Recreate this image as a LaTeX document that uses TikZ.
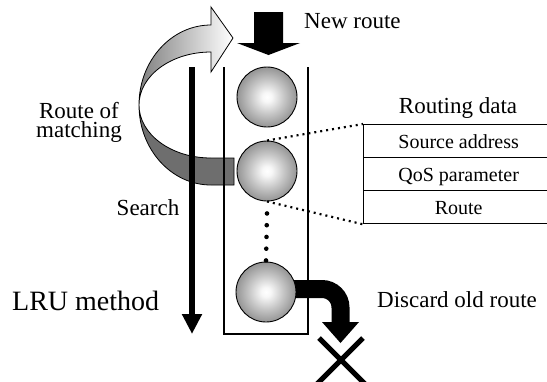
\documentclass[tikz,border=0pt]{standalone}
\usepackage{fontspec}
\setmainfont{Liberation Serif}
\usetikzlibrary{calc,arrows.meta}
\pgfdeclareradialshading{ballshade}{\pgfpoint{0bp}{0bp}}{color(0bp)=(white); color(4bp)=(white!97!black); color(14bp)=(black!22); color(24bp)=(black!40); color(30bp)=(black!50); color(50bp)=(black!55)}
\begin{document}
\begin{tikzpicture}[x=1pt,y=-1pt,
  ball/.style={circle, draw=black, line width=0.9pt, minimum size=60pt, inner sep=0pt, shade, shading=ballshade},
  lbl/.style={font=\fontsize{23}{19}\selectfont, inner sep=0pt, align=center},
  cell/.style={draw=black, line width=1.3pt, font=\fontsize{20}{22}\selectfont, inner sep=0pt,
    minimum width=190pt, minimum height=33pt, text height=15pt, text depth=1pt, anchor=north west},
  thinline/.style={line width=1.4pt},
  finedots/.style={line width=2.2pt, dash pattern=on 2pt off 4pt},
  fatline/.style={line width=18pt}
]
\useasboundingbox (0,0) rectangle (547,381);
\fill[white] (0,0) rectangle (547,381);

% ---- route of matching ribbon ----
\filldraw[fill=black!57, draw=black, line width=0.8pt]
  (139,105) arc[start angle=180, end angle=90, x radius=72, y radius=80]
  -- (234,185) -- (234,158) -- (211,158)
  arc[start angle=90, end angle=180, x radius=72, y radius=53] -- cycle;
\path[draw=black, line width=0.8pt, left color=black!50, right color=white]
  (139,105) arc[start angle=180, end angle=270, x radius=72, y radius=80]
  -- (211,7) -- (233,38) -- (211,72) -- (211,52)
  arc[start angle=270, end angle=180, x radius=72, y radius=53] -- cycle;

% ---- container ----
\coordinate (ctl) at (224,67);
\coordinate (cbl) at (224,334);
\coordinate (cbr) at (308,334);
\coordinate (ctr) at (308,67);
\draw[thinline] (ctl) -- (cbl) -- (cbr) -- (ctr);

% ---- discard arrow ----
\coordinate (d0) at (290,289);
\coordinate (d1) at (340.5,323);
\draw[fatline] (d0) -- (322,289) arc[start angle=270, end angle=360, radius=18.5] -- (d1);
\fill (322,322) -- (359,322) -- (340.5,343) -- cycle;
\draw[line width=5pt] (319,338) -- (366,385);
\draw[line width=5pt] (363,338) -- (316,385);

% ---- balls ----
\node[ball] (b1) at (267,97) {};
\node[ball] (b2) at (267,171) {};
\node[ball] (b3) at (266,292) {};
\draw[line width=4.6pt, line cap=round, dash pattern=on 0pt off 11.75pt]
  ($(b2.south)+(0,12)$) -- (b3.north);

% ---- search arrow ----
\coordinate (s1) at (192,67);
\coordinate (s2) at (192,334);
\draw[line width=6pt, -{Triangle[length=20pt, width=19pt]}] (s1) -- (s2);

% ---- new route arrow ----
\fill (254,12) -- (283,12) -- (283,43) -- (300,43) -- (268.5,55) -- (237,43) -- (254,43) -- cycle;

% ---- routing data table ----
\node[cell] (t1) at (363,124) {Source address};
\node[cell] (t2) at (363,157) {QoS parameter};
\node[cell] (t3) at (363,190) {Route};
\draw[finedots] (b2.north) -- (t1.north west);
\draw[finedots] (b2.south) -- (t3.south west);

% ---- labels ----
\node[lbl, anchor=center] (rom) at (79,122) {Route of\\matching};
\node[lbl, anchor=base west] (nr) at (304,28) {New route};
\node[lbl, anchor=base] (rd) at (458,113) {Routing data};
\node[lbl, anchor=base] (srch) at (148,215) {Search};
\node[lbl, anchor=base west] (dor) at (377,307) {Discard old route};
\node[font=\fontsize{28}{30}\selectfont, inner sep=0pt, anchor=base west] (lru) at (12,310) {LRU method};
\end{tikzpicture}
\end{document}
